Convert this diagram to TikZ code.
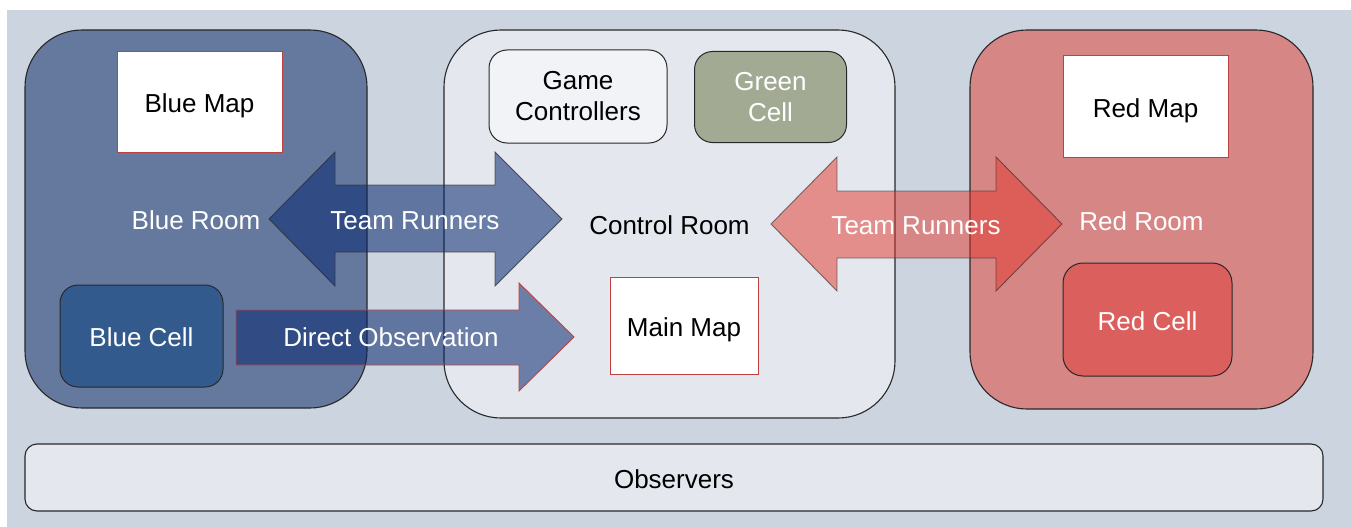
\documentclass[tikz,border=0pt]{standalone}
\usepackage{fontspec}
\setmainfont{Liberation Sans}
\definecolor{panelbg}{RGB}{204,213,223}
\definecolor{blueroom}{RGB}{101,121,159}
\definecolor{bluecell}{RGB}{50,90,140}
\definecolor{ctrlfill}{RGB}{228,232,238}
\definecolor{gcfill}{RGB}{241,243,247}
\definecolor{greencell}{RGB}{163,170,147}
\definecolor{redroom}{RGB}{214,134,133}
\definecolor{redcell}{RGB}{219,95,92}
\definecolor{mapred}{RGB}{190,65,65}
\definecolor{bluetint}{RGB}{8,40,110}
\definecolor{redtint}{RGB}{228,54,44}
\definecolor{edge}{RGB}{40,40,40}
\begin{document}
\begin{tikzpicture}[x=1pt,y=-1pt,
  font=\fontsize{26}{31}\selectfont,
  oneline/.style={text height=26pt, text depth=4.4pt},
  room/.style={draw=edge, line width=1.1pt, rounded corners=57pt, inner sep=0pt, oneline},
  cell/.style={draw=edge, line width=1pt, rounded corners=18pt, inner sep=0pt, align=center},
  mapbox/.style={draw=mapred, line width=1pt, fill=white, inner sep=0pt, oneline},
  lighttext/.style={text=white},
  bluearrow/.style={fill=bluetint, fill opacity=0.55, draw=edge, draw opacity=0.7, line width=0.9pt, line join=miter},
  redarrow/.style={fill=redtint, fill opacity=0.5, draw=edge, draw opacity=0.6, line width=0.9pt, line join=miter},
  obsarrow/.style={fill=bluetint, fill opacity=0.55, draw=mapred, line width=0.9pt, line join=miter}
]
\useasboundingbox (0,0) rectangle (1351,527);
\fill[white] (0,0) rectangle (1351,527);
\fill[panelbg] (7,10) rectangle (1351,527);

% rooms
\node[room, fill=blueroom, minimum width=342pt, minimum height=378pt, lighttext] (blueRoom) at (196,219) {Blue Room};
\node[room, fill=ctrlfill, minimum width=451pt, minimum height=388pt] (ctrlRoom) at (669.5,224) {Control Room};
\node[room, fill=redroom, minimum width=343pt, minimum height=379pt, lighttext] (redRoom) at (1141.5,219.5) {Red Room};

% observers strip
\node[draw=edge, line width=1.1pt, rounded corners=12pt, fill=ctrlfill, minimum width=1298pt, minimum height=67pt, inner sep=0pt, oneline] (observers) at (674,477.5) {Observers};

% contents of the blue room
\node[mapbox, minimum width=165pt, minimum height=100pt] (blueMap) at (199.5,102) {Blue Map};
\node[cell, oneline, fill=bluecell, minimum width=163pt, minimum height=102pt, lighttext] (blueCell) at (141.5,336) {Blue Cell};

% contents of the control room
\node[cell, fill=gcfill, minimum width=178pt, minimum height=93pt] (gameCtrl) at (578,96.5) {Game\\Controllers};
\node[cell, fill=greencell, minimum width=152pt, minimum height=91pt, lighttext] (greenCell) at (770.5,97) {Green\\Cell};
\node[mapbox, minimum width=148pt, minimum height=97pt] (mainMap) at (684,325.5) {Main Map};

% contents of the red room
\node[mapbox, minimum width=165pt, minimum height=101pt] (redMap) at (1145.5,106.5) {Red Map};
\node[cell, oneline, fill=redcell, minimum width=169pt, minimum height=113pt, rounded corners=20pt, lighttext] (redCell) at (1147.5,319.5) {Red Cell};

% team runners between blue room and control room
\draw[bluearrow] (269,219) -- (335,152) -- (335,185) -- (495,185) -- (495,152)
  -- (562,219) -- (495,286) -- (495,252) -- (335,252) -- (335,286) -- cycle;
\node[lighttext, oneline] (blueRunners) at (415,219) {Team Runners};

% direct observation from the blue cell to the main map
\draw[obsarrow] (236,310) -- (519,310) -- (519,283) -- (574,337) -- (519,391)
  -- (519,365) -- (236,365) -- cycle;
\node[lighttext, oneline] (directObs) at (391,335.5) {Direct Observation};

% team runners between control room and red room
\draw[redarrow] (771,224) -- (837,157) -- (837,191) -- (996,191) -- (996,157)
  -- (1062,224) -- (996,291) -- (996,258) -- (837,258) -- (837,291) -- cycle;
\node[lighttext, oneline] (redRunners) at (916,223.5) {Team Runners};
\end{tikzpicture}
\end{document}
